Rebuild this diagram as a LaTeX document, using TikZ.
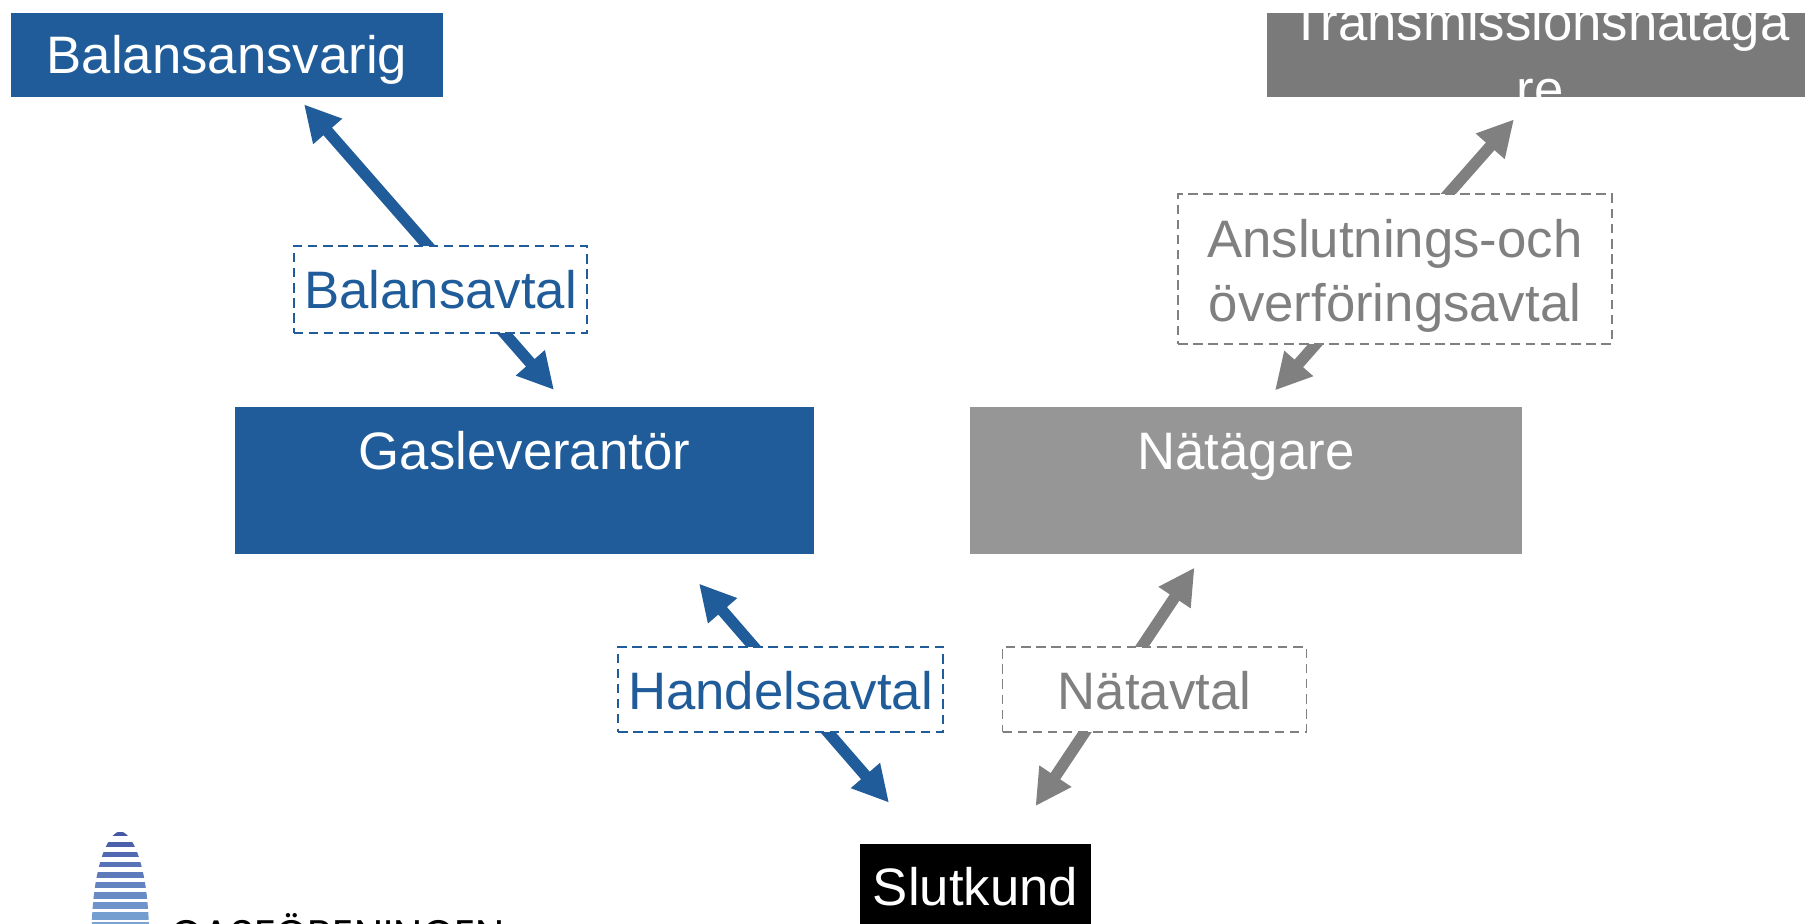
\documentclass[tikz,border=0pt]{standalone}
\usepackage{fontspec}
\setmainfont{Liberation Sans}
\newfontfamily\logofont{Poppins}
\usetikzlibrary{arrows.meta}
\definecolor{blau}{RGB}{31,92,153}
\definecolor{grau}{RGB}{128,128,128}
\definecolor{tsogray}{RGB}{122,122,122}
\definecolor{netgray}{RGB}{150,150,150}
\definecolor{logoA}{RGB}{70,88,166}
\definecolor{logoB}{RGB}{122,166,214}

\begin{document}
\begin{tikzpicture}[font=\fontsize{30}{36}\selectfont,
    box/.style={rectangle, inner sep=0pt, text=white},
    avtal/.style={rectangle, draw, dash pattern=on 5.4pt off 3.2pt, line width=1.1pt, fill=white, inner sep=0pt},
    pfeil/.style={line width=6.5pt, {Triangle[length=0.72cm,width=0.72cm]}-{Triangle[length=0.72cm,width=0.72cm]}}]
    \useasboundingbox (0,0) rectangle (36.1,18.46);

        % Nodes
        \node(bal) [box, fill=blau, minimum width=8.64cm, text height=1.22cm, text depth=0.46cm] at (4.54,17.36) {Balansansvarig};
        \node(tso) [box, fill=tsogray, minimum width=10.92cm, minimum height=1.68cm] at (30.8,17.36) {};
        \node(tsotext) [text=white, align=center, font=\fontsize{30}{38}\selectfont] at (tso) {Transmissionsnätäga\\re};
        \node(gas) [box, fill=blau, minimum width=11.58cm, text height=1.25cm, text depth=1.70cm] at (10.49,8.85) {Gasleverantör};
        \node(net) [box, fill=netgray, minimum width=11.03cm, text height=1.25cm, text depth=1.70cm] at (24.92,8.85) {Nätägare};
        \node(kund) [box, fill=black, minimum width=4.62cm, text height=1.22cm, text depth=0.46cm] at (19.51,0.74) {Slutkund};

        % Edges
        \draw[pfeil, blau] ([xshift=1.54cm,yshift=-0.14cm]bal.south) -- ([xshift=0.59cm,yshift=0.33cm]gas.north);
        \draw[pfeil, blau] ([xshift=3.49cm,yshift=-0.58cm]gas.south) -- ([xshift=-1.73cm,yshift=0.82cm]kund.north);
        \draw[pfeil, grau] ([xshift=-1.03cm,yshift=-0.26cm]net.south) -- ([xshift=1.20cm,yshift=0.75cm]kund.north);
        \draw[pfeil, grau] ([xshift=-0.52cm,yshift=-0.44cm]tso.south) -- ([xshift=0.58cm,yshift=0.32cm]net.north);

        % Labels
        \node(lbal) [avtal, draw=blau, text=blau, minimum width=5.87cm, text height=1.24cm, text depth=0.49cm] at (8.81,12.67) {Balansavtal};
        \node(lanl) [avtal, draw=grau, text=grau, minimum width=8.67cm, minimum height=3.0cm, align=center, font=\fontsize{30}{36.5}\selectfont] at (27.9,13.08) {\rule{0pt}{1.03cm}Anslutnings-och\\överföringsavtal};
        \node(lhan) [avtal, draw=blau, text=blau, minimum width=6.49cm, text height=1.25cm, text depth=0.45cm] at (15.61,4.67) {Handelsavtal};
        \node(lnat) [avtal, draw=grau, text=grau, minimum width=6.08cm, text height=1.25cm, text depth=0.45cm] at (23.09,4.67) {Nätavtal};

        % Logo
        \begin{scope}
            \clip (1.832,-0.14) .. controls (1.86,1.26) and (2.2,1.83) .. (2.406,1.83)
                .. controls (2.612,1.83) and (2.952,1.26) .. (2.98,-0.14) -- cycle;
            \foreach \i in {0,...,9} {
                \pgfmathtruncatemacro\p{\i*11}
                \fill[logoB!\p!logoA] (1.8,{1.826-0.2*\i}) rectangle (3.0,{1.736-0.2*\i-0.0084*\i});
            }
        \end{scope}
        \node(logo) [anchor=base west, inner sep=0pt, font=\logofont\fontsize{23.5}{28}\selectfont] at (3.4,-0.53) {GASFÖRENINGEN};

\end{tikzpicture}
\end{document}
